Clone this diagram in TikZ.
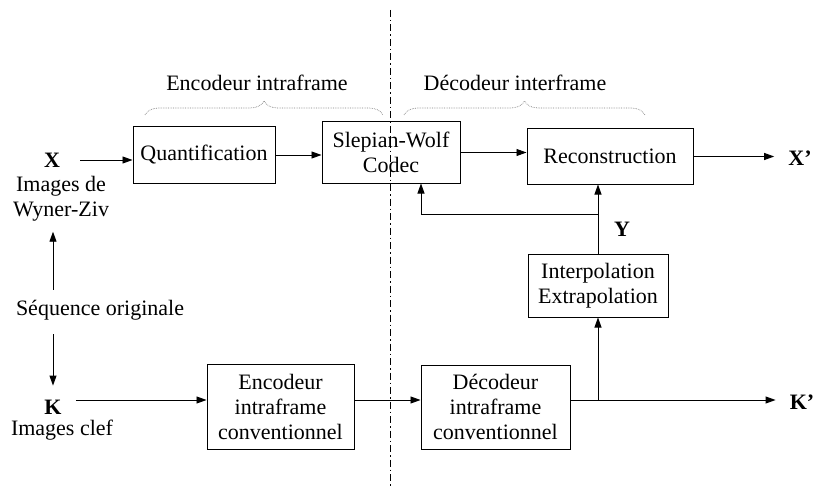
\documentclass[tikz,border=0pt]{standalone}
\usepackage{fontspec}
\setmainfont{Liberation Serif}
\usetikzlibrary{arrows.meta,decorations.pathreplacing}
\begin{document}
\begin{tikzpicture}[x=1pt,y=-1pt,
  every node/.style={font=\fontsize{22}{25}\selectfont, inner sep=0pt, align=center},
  lbl/.style={font=\fontsize{22}{25}\selectfont\bfseries},
  blk/.style={draw, line width=1pt},
  arr/.style={line width=0.9pt, -{Triangle[length=10pt,width=7pt]}},
  ln/.style={line width=0.9pt},
  brc/.style={decorate, decoration={brace, amplitude=14pt}, draw=gray, densely dotted, line width=0.7pt},
  sep/.style={line width=1pt, dash pattern=on 7pt off 3pt on 1.5pt off 3pt}
]
\useasboundingbox (0,0) rectangle (815,487);

% boxes
\node[blk, minimum width=142, minimum height=56] (quant) at (204,155) {Quantification};
\node[blk, minimum width=138, minimum height=61] (sw) at (391,152.5) {Slepian-Wolf\\Codec};
\node[blk, minimum width=166, minimum height=55] (rec) at (610,156.5) {Reconstruction};
\node[blk, minimum width=140, minimum height=63] (interp) at (598,285.5) {Interpolation\\Extrapolation};
\node[blk, minimum width=149, minimum height=84] (dec) at (495.5,407) {Décodeur\\intraframe\\conventionnel};
\node[blk, minimum width=147, minimum height=85] (enc) at (280.5,406.5) {Encodeur\\intraframe\\conventionnel};

% labels
\node[lbl] (X) at (52,160) {X};
\node (wz) at (61,199) {Images de\\Wyner-Ziv};
\node (seq) at (100,310) {Séquence originale};
\node[lbl] (K) at (53,407) {K};
\node (kl) at (62,430) {Images clef};
\node[lbl] (Y) at (622,229) {Y};
\node[lbl] (Xp) at (800,158) {X’};
\node[lbl] (Kp) at (802,402) {K’};
\node (enct) at (257,83) {Encodeur intraframe};
\node (dect) at (515,83) {Décodeur interframe};

% separator and braces
\coordinate (septop) at (390,10);
\coordinate (sepbot) at (390,487);
\draw[sep] (septop) -- (sepbot);
\coordinate (b1a) at (145,115);
\coordinate (b1b) at (383,115);
\coordinate (b2a) at (404,115);
\coordinate (b2b) at (645,115);
\draw[brc] (b1a) -- (b1b);
\draw[brc] (b2a) -- (b2b);

% connectors
\coordinate (fb) at (421,214);
\coordinate (ky) at (0,400);
\draw[arr, shorten <=20pt] (X.east) -- (X.east -| quant.west);
\draw[arr] (quant.east) -- (quant.east -| sw.west);
\draw[arr] (sw.east) -- (sw.east -| rec.west);
\draw[arr, shorten >=14pt] (rec.east) -- (Xp.west |- rec.east);
\draw[arr] (interp.north) -- (interp.north |- rec.south);
\draw[arr] (interp.north |- fb) -- (fb) -- (fb |- sw.south);
\draw[arr] (interp.south |- ky) -- (interp.south);
\draw[arr, shorten >=14pt] (dec.east |- ky) -- (Kp.west |- ky);
\draw[arr] (enc.east |- ky) -- (dec.west |- ky);
\draw[arr, shorten <=14pt] (K.east |- ky) -- (enc.west |- ky);
\draw[arr, shorten <=10pt, shorten >=10pt] (seq.north -| K) -- (wz.south -| K);
\draw[arr, shorten <=14pt, shorten >=14pt] (seq.south -| K) -- (K.north);
\end{tikzpicture}
\end{document}
